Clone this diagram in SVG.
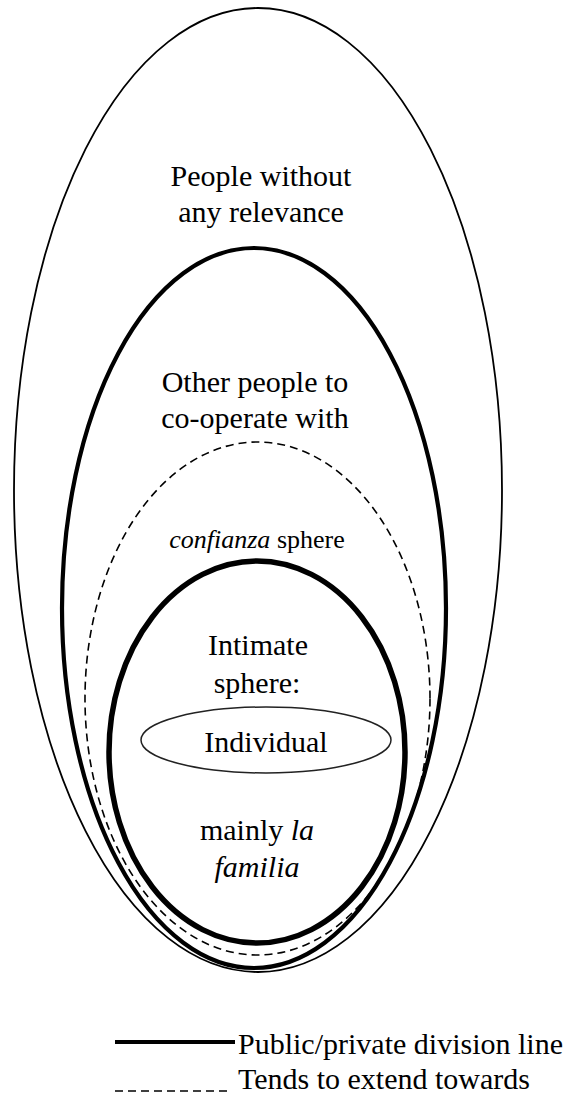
<svg xmlns="http://www.w3.org/2000/svg" width="569" height="1096" viewBox="0 0 569 1096">
  <style>
    .lbl { font-family: "Liberation Serif", "Times New Roman", serif; font-size: 30px; fill: #000; text-anchor: middle; }
    .leg { font-family: "Liberation Serif", "Times New Roman", serif; font-size: 30px; fill: #000; }
    .it { font-style: italic; }
    .thin { fill: none; stroke: #000; stroke-width: 1.8; }
    .division { fill: none; stroke: #000; stroke-width: 4.2; }
    .division-inner { fill: none; stroke: #000; stroke-width: 5.5; }
    .extend { fill: none; stroke: #000; stroke-width: 1.6; stroke-dasharray: 8 5; }
  </style>
  <rect width="569" height="1096" fill="#fff"/>

  <!-- outermost sphere -->
  <g id="irrelevant">
    <ellipse class="thin" cx="258" cy="490" rx="244" ry="482"/>
    <text class="lbl" x="261" y="186">People without</text>
    <text class="lbl" x="261" y="222">any relevance</text>
  </g>

  <!-- co-operation sphere, bounded by the public/private line -->
  <g id="cooperate">
    <ellipse class="division" cx="254" cy="608" rx="192" ry="360"/>
    <text class="lbl" x="255" y="392">Other people to</text>
    <text class="lbl" x="255" y="428">co-operate with</text>
  </g>

  <!-- confianza sphere, dashed -->
  <g id="confianza">
    <ellipse class="extend" cx="257.5" cy="698.5" rx="172.5" ry="256.5"/>
    <text class="lbl" x="257" y="548" style="font-size:26px"><tspan class="it">confianza</tspan> sphere</text>
  </g>

  <!-- intimate sphere -->
  <g id="intimate">
    <ellipse class="division-inner" cx="257" cy="752" rx="148" ry="191"/>
    <text class="lbl" x="258" y="655">Intimate</text>
    <text class="lbl" x="257" y="693">sphere:</text>
    <text class="lbl" x="257" y="840">mainly <tspan class="it">la</tspan></text>
    <text class="lbl it" x="257" y="877">familia</text>
  </g>

  <!-- the individual -->
  <g id="individual">
    <ellipse class="thin" cx="266" cy="740" rx="125" ry="33" style="stroke:#222;stroke-width:1.5"/>
    <text class="lbl" x="266" y="752">Individual</text>
  </g>

  <!-- legend -->
  <g id="legend">
    <line class="division" x1="115" y1="1042" x2="235" y2="1042"/>
    <text class="leg" x="238" y="1054">Public/private division line</text>
    <line class="extend" x1="115" y1="1091" x2="228" y2="1091"/>
    <text class="leg" x="238" y="1089">Tends to extend towards</text>
  </g>
</svg>
